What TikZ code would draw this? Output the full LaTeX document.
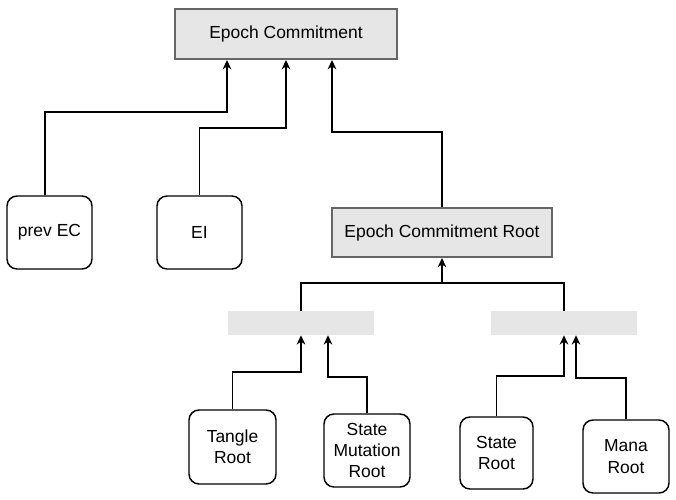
\documentclass[tikz,border=0pt]{standalone}
\usepackage{fontspec}
\setmainfont{Liberation Sans}
\usetikzlibrary{arrows.meta}
\definecolor{boxgray}{HTML}{E6E6E6}
\definecolor{bordergray}{HTML}{666666}
\begin{document}
\begin{tikzpicture}[x=0.75pt,y=-0.75pt,
  every node/.style={font=\fontsize{13.1pt}{16pt}\selectfont, align=center, inner sep=0pt},
  headbox/.style={draw=bordergray, line width=1.5pt, fill=boxgray},
  leafbox/.style={draw=black, line width=1.1pt, rounded corners=7.5pt, fill=white},
  barbox/.style={fill=boxgray, draw=none},
  arr/.style={line width=1.1pt, -{Stealth[length=7pt,width=6.5pt,inset=2.2pt]}},
  ln/.style={line width=1.1pt}]
\useasboundingbox (0,0) rectangle (676,500);
\node[headbox, minimum width=166.5pt, minimum height=37.5pt] (EC) at (286,34) {Epoch Commitment};
\node[leafbox, minimum width=63.75pt, minimum height=54.75pt] (prevEC) at (49.5,232.5) {prev EC};
\node[leafbox, minimum width=63.75pt, minimum height=54.75pt] (EI) at (199.5,232.5) {EI};
\node[headbox, minimum width=165pt, minimum height=36.75pt] (ECR) at (442,232.5) {Epoch Commitment Root};
\node[barbox, minimum width=109.5pt, minimum height=18pt] (leftG) at (301,323) {};
\node[barbox, minimum width=109.5pt, minimum height=18pt] (rightG) at (564,323) {};
\node[leafbox, minimum width=65.25pt, minimum height=55.5pt] (tangle) at (232.5,447) {Tangle\\Root};
\node[leafbox, minimum width=64.5pt, minimum height=54.75pt] (smr) at (367,450.5) {State\\Mutation\\Root};
\node[leafbox, minimum width=54.75pt, minimum height=54pt] (sr) at (496.5,453) {State\\Root};
\node[leafbox, minimum width=64.5pt, minimum height=54.75pt] (mana) at (626,456.5) {Mana\\Root};
\coordinate (bus) at (442,283);
% top connectors
\draw[arr] ([xshift=-3.4pt]prevEC.north) |- (227,112) -- (227,112 |- EC.south);
\draw[arr] (EI.north) |- (286,128) -- (286,128 |- EC.south);
\draw[arr] (ECR.north) |- (332,132) -- (332,132 |- EC.south);
% bus
\draw[ln] (leftG.north) |- (bus) -| (rightG.north);
\draw[arr] (bus) -- (ECR.south);
% bottom connectors
\draw[arr] (tangle.north) |- (301,372) -- (301,372 |- leftG.south);
\draw[arr] (smr.north) |- (328,377) -- (328,377 |- leftG.south);
\draw[arr] (sr.north) |- (564,376) -- (564,376 |- rightG.south);
\draw[arr] (mana.north) |- (576,378) -- (576,378 |- rightG.south);
\end{tikzpicture}
\end{document}
